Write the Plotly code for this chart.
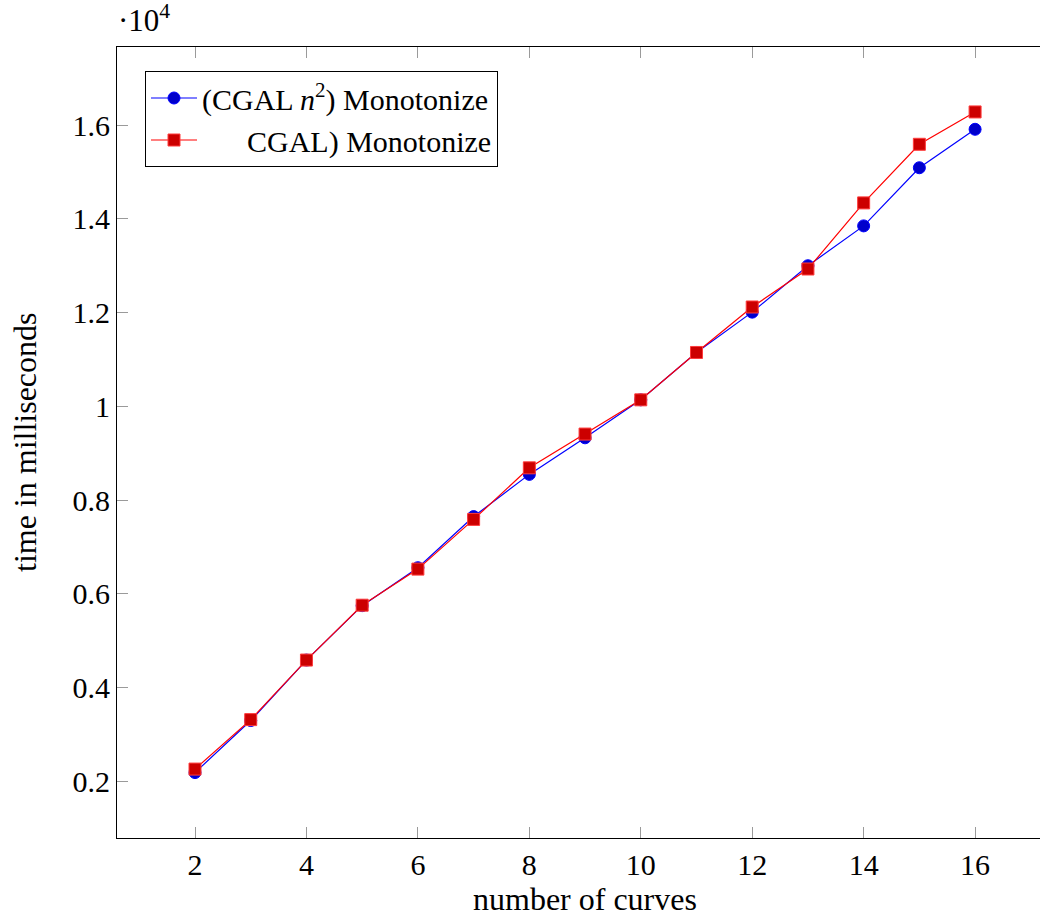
import plotly.graph_objects as go

# Data (time in milliseconds)
curves = [2, 3, 4, 5, 6, 7, 8, 9, 10, 11, 12, 13, 14, 15, 16]
cgal_n2 = [2190, 3300, 4590, 5750, 6560, 7650, 8550, 9330, 10140, 11150, 12010, 13000, 13850, 15090, 15910]
cgal = [2265, 3320, 4590, 5760, 6530, 7590, 8690, 9410, 10140, 11150, 12120, 12930, 14340, 15590, 16280]

x_ticks = [2, 4, 6, 8, 10, 12, 14, 16]
y_ticks = [2000, 4000, 6000, 8000, 10000, 12000, 14000, 16000]
y_ticktext = ["0.2", "0.4", "0.6", "0.8", "1", "1.2", "1.4", "1.6"]

FONT = "Liberation Serif"
W, H = 1040, 919
L, R, T, B = 117, 0, 47, 81
pw, ph = W - L - R, H - T - B

def px(xp):
    return (xp - L) / pw

def py(yp):
    return (H - B - yp) / ph

fig = go.Figure()
fig.add_trace(go.Scatter(
    x=curves, y=cgal_n2, mode="lines+markers",
    name="(CGAL <i>n</i><sup>2</sup>) Monotonize",
    line=dict(color="rgb(0,0,255)", width=1.2),
    marker=dict(symbol="circle", size=12, color="rgb(0,0,204)",
                line=dict(color="rgb(0,0,255)", width=1)),
))
fig.add_trace(go.Scatter(
    x=curves, y=cgal, mode="lines+markers",
    name="\u00a0" * 6 + "CGAL) Monotonize",
    line=dict(color="rgb(255,0,0)", width=1.2),
    marker=dict(symbol="square", size=12, color="rgb(204,0,0)",
                line=dict(color="rgb(255,60,60)", width=1)),
))

axis_common = dict(
    showline=True, linecolor="black", linewidth=1.2,
    ticks="inside", ticklen=11, tickcolor="#9a9a9a", tickwidth=1,
    showgrid=False, zeroline=False,
    tickfont=dict(family=FONT, size=30, color="black"),
)

fig.update_layout(
    width=W, height=H,
    margin=dict(l=L, r=R, t=T, b=B),
    paper_bgcolor="white", plot_bgcolor="white",
    font=dict(family=FONT, size=30, color="black"),
    xaxis=dict(range=[0.6, 17.165], tickvals=x_ticks, mirror="ticks", **axis_common),
    yaxis=dict(range=[795, 17665], tickvals=y_ticks, ticktext=y_ticktext, **axis_common),
    legend=dict(
        x=px(145), y=py(71), xanchor="left", yanchor="top",
        bgcolor="white", bordercolor="black", borderwidth=1,
        font=dict(family=FONT, size=30, color="black"),
        itemwidth=46, tracegroupgap=0,
    ),
    showlegend=True,
)

fig.add_annotation(
    x=px(585), y=py(899), xref="paper", yref="paper",
    text="number of curves", showarrow=False,
    xanchor="center", yanchor="middle",
    font=dict(family=FONT, size=32, color="black"),
)
fig.add_annotation(
    x=px(25), y=py(442), xref="paper", yref="paper",
    text="time in milliseconds", showarrow=False, textangle=-90,
    xanchor="center", yanchor="middle",
    font=dict(family=FONT, size=32, color="black"),
)
fig.add_annotation(
    x=px(116), y=py(40), xref="paper", yref="paper",
    text="\u00b710<sup>4</sup>", showarrow=False,
    xanchor="left", yanchor="bottom",
    font=dict(family=FONT, size=31, color="black"),
)

fig.write_html(
    "out.html",
    config={"displayModeBar": False},
    post_script="document.body.style.margin='0';document.body.style.overflow='hidden';",
)
